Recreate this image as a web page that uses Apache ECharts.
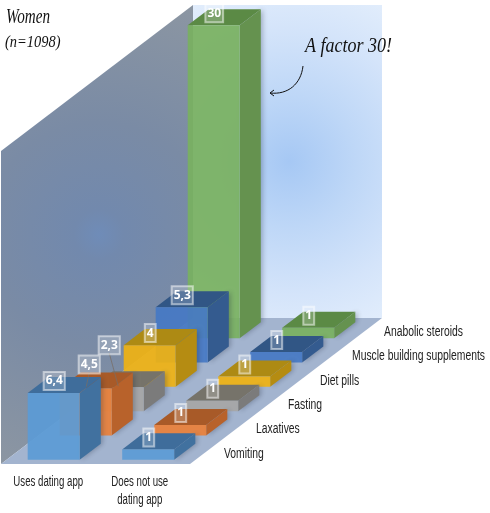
<!DOCTYPE html>
<html><head><meta charset="utf-8">
<style>html,body{margin:0;padding:0;background:#fff}#c{width:490px;height:513px}</style>
<script src="https://cdn.jsdelivr.net/npm/echarts@6/dist/echarts.min.js"></script></head>
<body><div id="c"></div>
<script>
// ---- data ----
const groups = ['Uses dating app', 'Does not use\ndating app'];
const measures = ['Vomiting', 'Laxatives', 'Fasting', 'Diet pills', 'Muscle building supplements', 'Anabolic steroids'];
const usesApp = [6.4, 4.5, 2.3, 4, 5.3, 30];
const noApp = [1, 1, 1, 1, 1, 1];
const title = 'Women';
const subtitle = '(n=1098)';
const note = 'A factor 30!';

// ---- styling & projection ----
const fronts = ['#5b9bd5', '#e8803a', '#a6a6a6', '#eeb213', '#4678c4', '#78b060'];
const sides = ['#41719f', '#b8622b', '#7b7b7b', '#b58c12', '#345b8f', '#65924f'];
const tops = ['#3f6d9b', '#a85a28', '#76736a', '#ad8a14', '#315685', '#5b8a45'];
const wallTop = 30, stepX = 32, stepY = 24.33, barDepth = 0.66, barFront = 0.17, barWidth = 0.55;
const HAND = '"Liberation Serif"', NARROW = '"Liberation Sans"';
const sideScale = 0.74, groupScale = 0.69;
const nudge = {'0,1': [3, -12], '0,2': [-9, -30]};
const leader = {'0,1': [-10, 6], '0,2': [-10, 7]};

function pt(api, cat, offs, z, v) {
  const c = api.coord([cat, v]), band = api.size([1, 0])[0];
  return [c[0] + offs * band + z * stepX, c[1] - z * stepY];
}
function poly(points, fill, extra) {
  return Object.assign({type: 'polygon', shape: {points}, style: {fill, stroke: null}, silent: true}, extra || {});
}
function bar(z) {
  return function (params, api) {
    const cat = api.value(0), v = api.value(1);
    const l = -barWidth / 2, r = barWidth / 2, a = z + barFront, b = a + barDepth;
    const P = (o, d, h) => pt(api, cat, o, d, h);
    return {type: 'group', children: [
      poly([P(r, a, 0), P(r, b, 0), P(r, b, v), P(r, a, v)], sides[z], {style: {fill: sides[z], shadowBlur: 5, shadowColor: 'rgba(30,40,60,.3)', shadowOffsetX: 2}}),
      poly([P(l, a, v), P(r, a, v), P(r, b, v), P(l, b, v)], tops[z]),
      poly([P(l, a, 0), P(r, a, 0), P(r, a, v), P(l, a, v)], fronts[z], {style: {fill: fronts[z], opacity: 0.93}})
    ]};
  };
}
function walls(params, api) {
  const P = (c, o, d, h) => pt(api, c, o, d, h);
  const radial = (r, s) => new echarts.graphic.RadialGradient(0.51, 0.5, r, s);
  const fl = P(0, -.5, 0, 0), fr = P(1, .5, 0, 0), br = P(1, .5, 6, 0), bl = P(0, -.5, 6, 0);
  const tbl = P(0, -.5, 6, wallTop), tbr = P(1, .5, 6, wallTop), tfl = P(0, -.5, 0, wallTop);
  return {type: 'group', children: [
    poly([tfl, tbl, bl, fl], radial(1.3, [{offset: 0, color: '#6f8cb8'}, {offset: .1, color: '#7289ad'}, {offset: .45, color: '#7a8ba5'}, {offset: 1, color: '#8c96a2'}])),
    poly([tbl, tbr, br, bl], radial(1, [{offset: 0, color: '#a6c8f4'}, {offset: .35, color: '#bed7f7'}, {offset: .7, color: '#d4e4fa'}, {offset: 1, color: '#e3eefc'}])),
    poly([fl, fr, br, bl], '#a3b4cf')
  ]};
}
function sideLabel(params, api) {
  const z = api.value(0), p = pt(api, 1, .5, z + .5, 0);
  return {type: 'text', silent: true, x: p[0] + 18, y: p[1] + 2, scaleX: sideScale, style: {
    text: measures[z], fill: '#222', font: '14px ' + NARROW, textAlign: 'left', textVerticalAlign: 'middle'}};
}
function groupLabel(params, api) {
  const cat = api.value(0), p = pt(api, cat, 0, 0, 0);
  return {type: 'text', silent: true, x: p[0] - cat * 3, y: p[1] + 9, scaleX: groupScale, style: {
    text: groups[cat], fill: '#222', font: '14px ' + NARROW, lineHeight: 18, textAlign: 'center', textVerticalAlign: 'top'}};
}
function valueLabel(params, api) {
  const cat = api.value(0), v = api.value(1), z = api.value(2);
  const a = z + barFront + barDepth / 2, base = pt(api, cat, 0, a, v);
  const key = cat + ',' + z, n = nudge[key] || [0, 0];
  const x = base[0] - 10 + n[0], y = base[1] - 4 + n[1];
  const kids = [];
  if (leader[key]) {
    kids.push({type: 'line', silent: true, shape: {x1: x, y1: y + 8, x2: base[0] + leader[key][0], y2: base[1] + leader[key][1]},
      style: {stroke: 'rgba(120,110,100,.75)', lineWidth: 1}});
  }
  kids.push({type: 'text', silent: true, x, y, style: {
    text: String(v).replace('.', ','), fill: '#fff', font: 'bold 12px "Open Sans"',
    textAlign: 'center', textVerticalAlign: 'middle', padding: [3, 2, 3, 2],
    backgroundColor: 'rgba(255,255,255,.2)', borderColor: 'rgba(255,255,255,.5)', borderWidth: 1}});
  return {type: 'group', children: kids};
}

const rows = [];
measures.forEach((m, z) => {rows.push([0, usesApp[z], z]); rows.push([1, noApp[z], z]);});
const common = {type: 'custom', coordinateSystem: 'cartesian2d', clip: false, silent: true, animation: false, encode: {x: 0, y: 1}};
const series = [Object.assign({}, common, {name: 'walls', renderItem: walls, data: [[0, wallTop]]})];
for (let z = measures.length - 1; z >= 0; z--) {
  series.push(Object.assign({}, common, {name: measures[z], renderItem: bar(z), data: [[0, usesApp[z]], [1, noApp[z]]]}));
}
series.push(Object.assign({}, common, {name: 'values', renderItem: valueLabel, data: rows}));
series.push(Object.assign({}, common, {name: 'measures', renderItem: sideLabel, data: measures.map((m, z) => [z, 0])}));
series.push(Object.assign({}, common, {name: 'groups', renderItem: groupLabel, data: groups.map((g, i) => [i, 0])}));

const chart = echarts.init(document.getElementById('c'), null, {renderer: 'canvas'});
chart.setOption({
  animation: false,
  backgroundColor: '#fff',
  grid: {left: 1, width: 189, top: 151, height: 313},
  xAxis: {type: 'category', data: groups, axisLine: {show: false}, axisTick: {show: false}, splitLine: {show: false},
    axisLabel: {show: false}},
  yAxis: {type: 'value', min: 0, max: wallTop, show: false},
  series,
  graphic: [
    {type: 'text', z: 100, x: 6, y: 7, scaleX: .72, silent: true, style: {text: title, fill: '#111', font: 'italic 21px ' + HAND}},
    {type: 'text', z: 100, x: 5, y: 34, scaleX: .85, silent: true, style: {text: subtitle, fill: '#111', font: 'italic 17px ' + HAND}},
    {type: 'text', z: 100, x: 305, y: 37, scaleX: .9, silent: true, style: {text: note, fill: '#111', font: 'italic 20px ' + HAND}},
    {type: 'bezierCurve', z: 100, silent: true, shape: {x1: 303, y1: 66, cpx1: 301, cpy1: 84, cpx2: 288, cpy2: 95, x2: 270, y2: 93}, style: {stroke: '#111', lineWidth: 1, fill: null}},
    {type: 'polyline', z: 100, silent: true, shape: {points: [[274, 90], [270, 93], [274, 96]]}, style: {stroke: '#111', lineWidth: 1, fill: null}}
  ]
});
</script></body></html>
